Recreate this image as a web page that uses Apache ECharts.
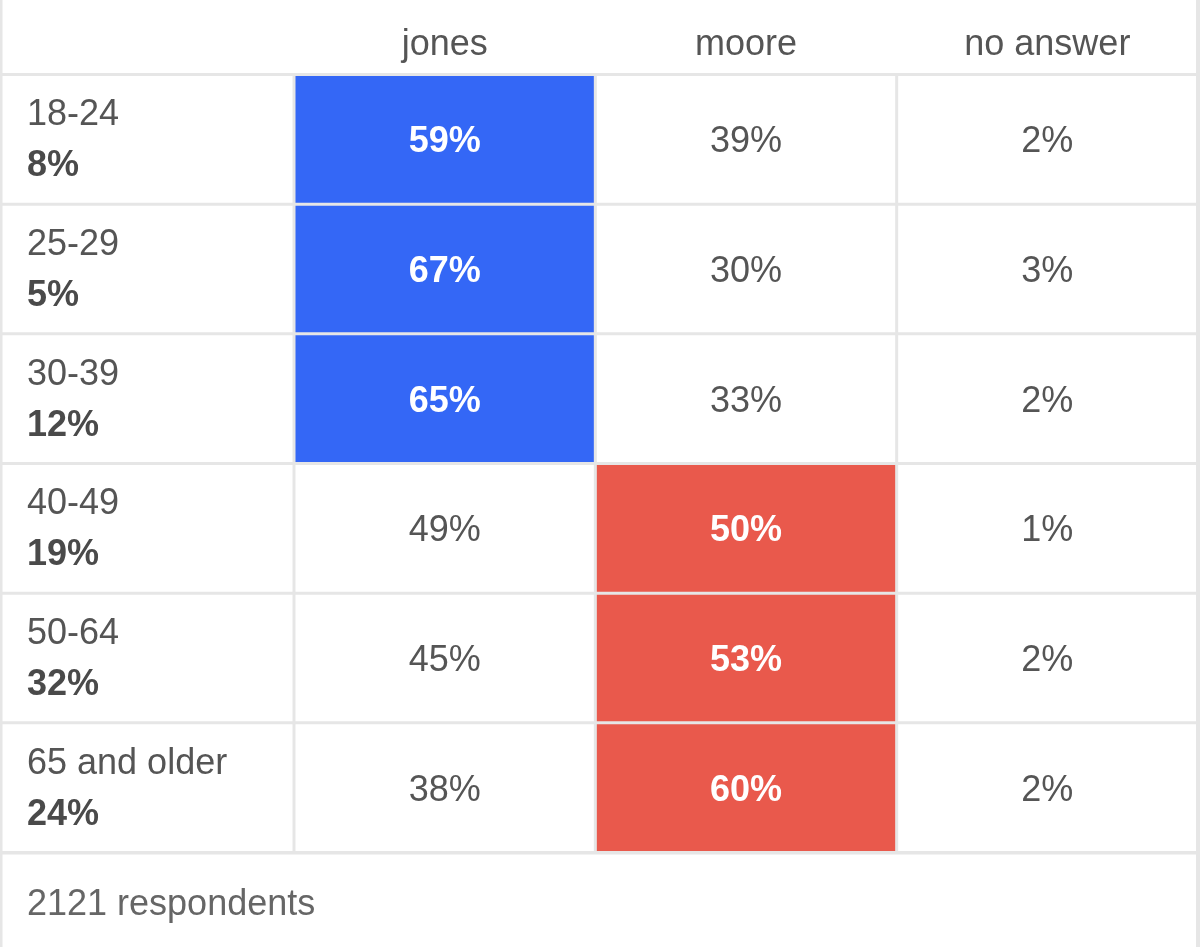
<!DOCTYPE html>
<html>
<head>
<meta charset="utf-8">
<script src="https://cdn.jsdelivr.net/npm/echarts@6/dist/echarts.min.js"></script>
<style>
html,body{margin:0;padding:0;background:#fff;}
#chart{width:1200px;height:947px;}
</style>
</head>
<body>
<div id="chart"></div>
<script>
const ageGroups = ['18-24', '25-29', '30-39', '40-49', '50-64', '65 and older'];
const groupShares = ['8%', '5%', '12%', '19%', '32%', '24%'];
const candidates = ['jones', 'moore', 'no answer'];
const jones = [59, 67, 65, 49, 45, 38];
const moore = [39, 30, 33, 50, 53, 60];
const noAnswer = [2, 3, 2, 1, 2, 2];
const respondents = 2121;

const FONT = '"Liberation Sans", Arial, sans-serif';
const BLUE = '#3467f6';
const RED = '#e9594c';
const TEXT = '#555555';
const GAP = 1.5;

const seriesValues = [jones, moore, noAnswer];
const cellData = [];
ageGroups.forEach((g, r) => {
  const winner = jones[r] > moore[r] ? 0 : 1;
  seriesValues.forEach((vals, c) => {
    cellData.push([c, r, vals[r], c === winner ? 1 : 0]);
  });
});
const labelData = ageGroups.map((g, r) => [0, r, g, groupShares[r]]);

const chart = echarts.init(document.getElementById('chart'), null, {renderer: 'canvas'});

chart.setOption({
  animation: false,
  backgroundColor: '#ffffff',
  title: {
    text: respondents + ' respondents',
    left: 22, top: 882,
    textStyle: {fontFamily: FONT, fontSize: 36, fontWeight: 'normal', color: '#666666'}
  },
  graphic: [
    {type: 'rect', z: -10, silent: true, shape: {x: 0, y: 73, width: 1200, height: 781.5}, style: {fill: '#e6e6e6'}},
    {type: 'rect', z: 100, silent: true, shape: {x: 0, y: 0, width: 2.5, height: 947}, style: {fill: '#e6e6e6'}},
    {type: 'rect', z: 100, silent: true, shape: {x: 1196, y: 0, width: 4, height: 947}, style: {fill: '#e6e6e6'}}
  ],
  grid: [
    {left: 0, width: 294, top: 74.5, bottom: 94.5},
    {left: 294, right: 2, top: 74.5, bottom: 94.5}
  ],
  xAxis: [
    {gridIndex: 0, type: 'category', data: [''], show: false},
    {gridIndex: 1, type: 'category', data: candidates, position: 'top',
     axisLine: {show: false}, axisTick: {show: false}, splitLine: {show: false},
     axisLabel: {margin: 11, fontFamily: FONT, fontSize: 36, color: TEXT}}
  ],
  yAxis: [
    {gridIndex: 0, type: 'category', data: ageGroups, inverse: true, show: false},
    {gridIndex: 1, type: 'category', data: ageGroups, inverse: true, show: false}
  ],
  series: [
    {
      type: 'custom', xAxisIndex: 0, yAxisIndex: 0, data: labelData,
      renderItem: function (params, api) {
        const c = api.coord([api.value(0), api.value(1)]);
        const s = api.size([1, 1]);
        const d = labelData[params.dataIndex];
        const x0 = c[0] - s[0] / 2 + GAP, y0 = c[1] - s[1] / 2 + GAP;
        return {
          type: 'group',
          children: [
            {type: 'rect', shape: {x: x0, y: y0, width: s[0] - 2 * GAP, height: s[1] - 2 * GAP}, style: {fill: '#ffffff'}},
            {type: 'text', style: {x: 27, y: c[1] - 24, text: d[2], fill: TEXT, font: 'normal 36px ' + FONT, verticalAlign: 'middle', align: 'left'}},
            {type: 'text', style: {x: 27, y: c[1] + 27, text: d[3], fill: '#4a4a4a', font: 'bold 36px ' + FONT, verticalAlign: 'middle', align: 'left'}}
          ]
        };
      }
    },
    {
      type: 'custom', xAxisIndex: 1, yAxisIndex: 1, data: cellData,
      renderItem: function (params, api) {
        const c = api.coord([api.value(0), api.value(1)]);
        const s = api.size([1, 1]);
        const col = api.value(0);
        const win = api.value(3) === 1;
        const fill = win ? (col === 0 ? BLUE : RED) : '#ffffff';
        return {
          type: 'group',
          children: [
            {type: 'rect', shape: {x: c[0] - s[0] / 2 + GAP, y: c[1] - s[1] / 2 + GAP, width: s[0] - 2 * GAP, height: s[1] - 2 * GAP}, style: {fill: fill}},
            {type: 'text', style: {x: c[0], y: c[1] + 3, text: api.value(2) + '%', fill: win ? '#ffffff' : TEXT,
              font: (win ? 'bold' : 'normal') + ' 36px ' + FONT, align: 'center', verticalAlign: 'middle'}}
          ]
        };
      }
    }
  ]
});
</script>
</body>
</html>
